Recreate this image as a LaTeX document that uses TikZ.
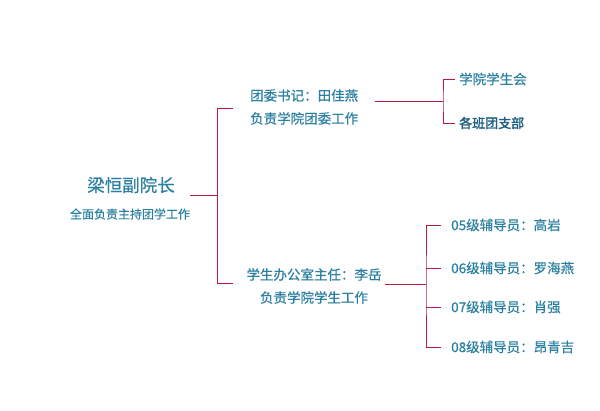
\documentclass[tikz,border=0pt]{standalone}
\usepackage{fontspec}
\setmainfont{Noto Sans CJK SC}[FakeBold=0.5, BoldFont={Noto Sans CJK SC}, BoldFeatures={FakeBold=2}]
\usetikzlibrary{positioning}
\definecolor{txtblue}{HTML}{2B7FA0}
\definecolor{txtdark}{HTML}{1F5F80}
\definecolor{linered}{HTML}{B01E3C}
\tikzset{
  link/.style={draw=linered, line width=0.9pt},
  lbl/.style={text=txtblue, inner sep=0pt, font=\fontsize{13.5}{23}\selectfont},
}

\begin{document}
\begin{tikzpicture}[x=1pt, y=-1pt]
      \useasboundingbox (0,0) rectangle (600,410);

      \node[lbl, font=\fontsize{17.5}{17.5}\selectfont] (dean) at (131,185) {梁恒副院长};
      \node[lbl, font=\fontsize{12}{12}\selectfont] (deansub) at (130,214) {全面负责主持团学工作};

      \node[lbl, anchor=west, align=left] (tw) at (250,107) {团委书记：田佳燕\\负责学院团委工作};
      \node[lbl, align=center] (xs) at (314,286) {学生办公室主任：李岳\\负责学院学生工作};

      \node[lbl, anchor=west] (xh) at (459,79) {学院学生会};
      \node[lbl, anchor=west, text=txtdark, font=\fontsize{13}{13}\selectfont\bfseries] (bj) at (459,123) {各班团支部};

      \node[lbl, anchor=west] (c5) at (451,225) {05级辅导员：高岩};
      \node[lbl, anchor=west] (c6) at (451,268) {06级辅导员：罗海燕};
      \node[lbl, anchor=west] (c7) at (451,307) {07级辅导员：肖强};
      \node[lbl, anchor=west] (c8) at (451,347) {08级辅导员：昂青吉};

      \coordinate (d0) at (190,195);
      \coordinate (b1) at (217,195);
      \coordinate (t0) at (375,101);
      \coordinate (b2) at (443,101);
      \coordinate (s0) at (385,284);
      \coordinate (b3) at (426,284);

      \draw[link] (d0) -- (b1);
      \draw[link] (233,108) -- (217,108) -- (217,283) -- (233,283);

      \draw[link] (t0) -- (b2);
      \draw[link] ([xshift=-4pt]xh.west) -| (b2) |- ([xshift=-4pt]bj.west);

      \draw[link] (s0) -- (b3);
      \draw[link] ([xshift=-10pt]c5.west) -| (b3) |- ([xshift=-10pt]c8.west);
      \draw[link] (b3 |- c6.west) -- ([xshift=-10pt]c6.west);
      \draw[link] (b3 |- c7.west) -- ([xshift=-10pt]c7.west);
\end{tikzpicture}
\end{document}
